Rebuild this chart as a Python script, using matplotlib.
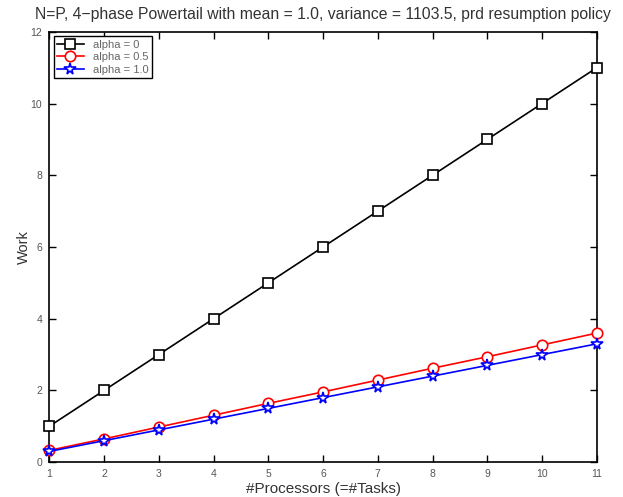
import matplotlib
matplotlib.use("Agg")
import matplotlib.pyplot as plt

plt.rcParams["font.family"] = ["Liberation Sans", "DejaVu Sans"]

procs = [1, 2, 3, 4, 5, 6, 7, 8, 9, 10, 11]
work_a0 = [1, 2, 3, 4, 5, 6, 7, 8, 9, 10, 11]
work_a05 = [0.33, 0.65, 0.98, 1.31, 1.64, 1.96, 2.29, 2.62, 2.94, 3.27, 3.6]
work_a1 = [0.3, 0.6, 0.9, 1.2, 1.5, 1.8, 2.1, 2.4, 2.7, 3.0, 3.3]
labels = ["alpha = 0", "alpha = 0.5", "alpha = 1.0"]

fig = plt.figure(figsize=(6.23, 4.97), dpi=100)
ax = fig.add_axes([0.079, 0.070, 0.879, 0.866])

ax.plot(procs, work_a0, color="black", lw=1.2, marker="s", ms=6.5, mfc="white", mew=1.2,
        label=labels[0], clip_on=False, zorder=3)
ax.plot(procs, work_a05, color="red", lw=1.2, marker="o", ms=7.5, mfc="white", mew=1.2,
        label=labels[1], clip_on=False, zorder=3)
ax.plot(procs, work_a1, color="blue", lw=1.2, marker="*", ms=8.5, mfc="white", mew=1.2,
        label=labels[2], clip_on=False, zorder=4)

ax.set_xlim(1, 11)
ax.set_ylim(0, 12)
ax.set_xticks(procs)
ax.set_yticks(range(0, 13, 2))
ax.tick_params(direction="in", length=5, labelsize=7.5, labelcolor="#555555",
               top=True, right=True, width=1, pad=5)
for s in ax.spines.values():
    s.set_linewidth(1.2)

ax.set_title("N=P, 4\u2212phase Powertail with mean = 1.0, variance = 1103.5, prd resumption policy",
             fontsize=11.3, color="#333333", pad=9)
ax.set_xlabel("#Processors (=#Tasks)", fontsize=11, color="#333333", labelpad=2)
ax.set_ylabel("Work", fontsize=10.5, color="#333333", labelpad=0)

leg = ax.legend(loc="upper left", fontsize=8, frameon=True, fancybox=False, borderpad=0.3,
                handlelength=2.4, labelspacing=0.25, borderaxespad=0.4, framealpha=1)
leg.get_frame().set_edgecolor("black")
leg.get_frame().set_linewidth(1.0)
for t in leg.get_texts():
    t.set_color("#666666")

fig.savefig("out.png", dpi=100)
